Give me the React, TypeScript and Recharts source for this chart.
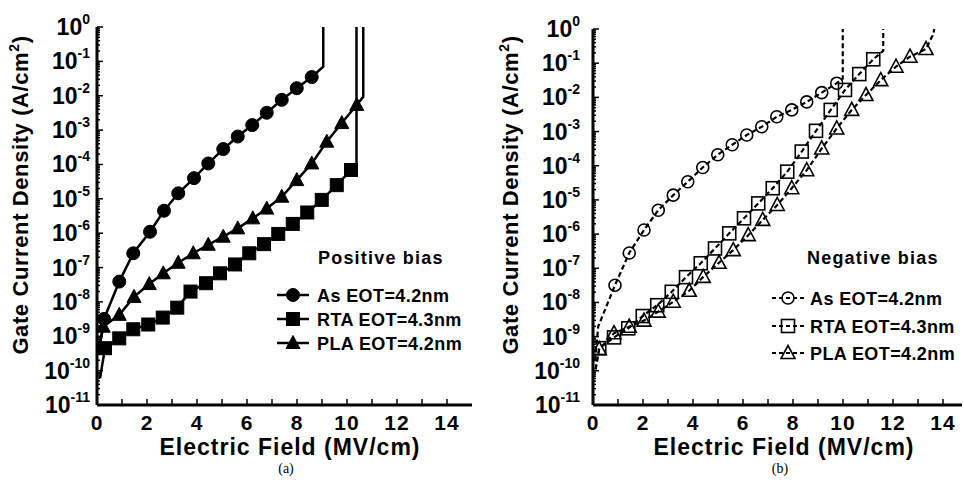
import React from "react";
import { LineChart, Line, XAxis, YAxis, Legend } from "recharts";

type Pt = { e: number; j: number };

// (a) positive bias
const asPosLead: Pt[] = [{ e: 0.12, j: 6e-10 }];
const asPos: Pt[] = [
  { e: 0.28, j: 3.2e-9 }, { e: 0.89, j: 3.9e-8 }, { e: 1.45, j: 2.6e-7 },
  { e: 2.12, j: 1.1e-6 }, { e: 2.68, j: 4.5e-6 }, { e: 3.25, j: 1.45e-5 },
  { e: 3.88, j: 4e-5 }, { e: 4.45, j: 1.07e-4 }, { e: 5.05, j: 2.8e-4 },
  { e: 5.63, j: 6.5e-4 }, { e: 6.21, j: 1.4e-3 }, { e: 6.79, j: 3.2e-3 },
  { e: 7.39, j: 7.6e-3 }, { e: 7.99, j: 1.66e-2 }, { e: 8.59, j: 3.5e-2 },
];
const asPosTail: Pt[] = [{ e: 9.05, j: 7e-2 }, { e: 9.05, j: 1 }];

const rtaPosLead: Pt[] = [{ e: 0.12, j: 6e-11 }];
const rtaPos: Pt[] = [
  { e: 0.32, j: 4.5e-10 }, { e: 0.89, j: 8.7e-10 }, { e: 1.45, j: 1.6e-9 },
  { e: 2.05, j: 2.2e-9 }, { e: 2.63, j: 3.5e-9 }, { e: 3.21, j: 6.8e-9 },
  { e: 3.74, j: 2e-8 }, { e: 4.36, j: 3.5e-8 }, { e: 4.92, j: 6.8e-8 },
  { e: 5.52, j: 1.23e-7 }, { e: 6.09, j: 2.6e-7 }, { e: 6.68, j: 4.8e-7 },
  { e: 7.25, j: 9.5e-7 }, { e: 7.83, j: 1.86e-6 }, { e: 8.41, j: 4e-6 },
  { e: 8.99, j: 9.3e-6 }, { e: 9.59, j: 2.5e-5 }, { e: 10.16, j: 6.9e-5 },
];
const rtaPosTail: Pt[] = [{ e: 10.38, j: 8e-5 }, { e: 10.38, j: 1 }];

const plaPosLead: Pt[] = [{ e: 0.1, j: 5e-10 }];
const plaPos: Pt[] = [
  { e: 0.25, j: 1.9e-9 }, { e: 0.89, j: 4.2e-9 }, { e: 1.48, j: 1.4e-8 },
  { e: 2.09, j: 3.3e-8 }, { e: 2.65, j: 6.8e-8 }, { e: 3.25, j: 1.38e-7 },
  { e: 3.85, j: 2.6e-7 }, { e: 4.45, j: 4.6e-7 }, { e: 5.05, j: 7.9e-7 },
  { e: 5.63, j: 1.38e-6 }, { e: 6.23, j: 2.7e-6 }, { e: 6.79, j: 5.2e-6 },
  { e: 7.39, j: 1.15e-5 }, { e: 7.99, j: 3.5e-5 }, { e: 8.59, j: 1.07e-4 },
  { e: 9.19, j: 4.6e-4 }, { e: 9.79, j: 1.6e-3 }, { e: 10.39, j: 5.4e-3 },
];
const plaPosTail: Pt[] = [{ e: 10.65, j: 9.3e-3 }, { e: 10.65, j: 1 }];

// (b) negative bias
const asNegLead: Pt[] = [{ e: 0.08, j: 2e-10 }, { e: 0.21, j: 2e-9 }];
const asNeg: Pt[] = [
  { e: 0.88, j: 3.2e-8 }, { e: 1.45, j: 2.8e-7 }, { e: 2.04, j: 1.32e-6 },
  { e: 2.61, j: 5e-6 }, { e: 3.21, j: 1.38e-5 }, { e: 3.79, j: 3.4e-5 },
  { e: 4.39, j: 8.9e-5 }, { e: 4.99, j: 2.1e-4 }, { e: 5.57, j: 4.1e-4 },
  { e: 6.15, j: 7.9e-4 }, { e: 6.75, j: 1.38e-3 }, { e: 7.35, j: 2.7e-3 },
  { e: 7.95, j: 4.3e-3 }, { e: 8.55, j: 7.4e-3 }, { e: 9.15, j: 1.38e-2 },
  { e: 9.75, j: 2.6e-2 },
];
const asNegTail: Pt[] = [{ e: 9.99, j: 3.5e-2 }, { e: 9.99, j: 1 }];

const rtaNegLead: Pt[] = [{ e: 0.1, j: 1.1e-10 }];
const rtaNeg: Pt[] = [
  { e: 0.25, j: 4.6e-10 }, { e: 0.84, j: 9.5e-10 }, { e: 1.41, j: 1.75e-9 },
  { e: 1.99, j: 4e-9 }, { e: 2.57, j: 8.3e-9 }, { e: 3.15, j: 2.05e-8 },
  { e: 3.72, j: 5.5e-8 }, { e: 4.31, j: 1.4e-7 }, { e: 4.88, j: 3.8e-7 },
  { e: 5.45, j: 1.05e-6 }, { e: 6.04, j: 2.9e-6 }, { e: 6.61, j: 7.9e-6 },
  { e: 7.19, j: 2.2e-5 }, { e: 7.77, j: 6.7e-5 }, { e: 8.35, j: 2.6e-4 },
  { e: 8.92, j: 1.05e-3 }, { e: 9.51, j: 4.3e-3 }, { e: 10.08, j: 1.65e-2 },
  { e: 10.65, j: 4.8e-2 }, { e: 11.21, j: 1.3e-1 },
];
const rtaNegTail: Pt[] = [{ e: 11.61, j: 2.3e-1 }, { e: 11.61, j: 1 }];

const plaNegLead: Pt[] = [{ e: 0.1, j: 1.1e-10 }];
const plaNeg: Pt[] = [
  { e: 0.25, j: 4.3e-10 }, { e: 0.84, j: 1.26e-9 }, { e: 1.45, j: 1.95e-9 },
  { e: 2.04, j: 2.95e-9 }, { e: 2.61, j: 5.4e-9 }, { e: 3.21, j: 1.05e-8 },
  { e: 3.85, j: 2.2e-8 }, { e: 4.41, j: 5.6e-8 }, { e: 5.04, j: 1.45e-7 },
  { e: 5.61, j: 3.4e-7 }, { e: 6.21, j: 9.3e-7 }, { e: 6.79, j: 2.6e-6 },
  { e: 7.37, j: 7.1e-6 }, { e: 7.95, j: 2.2e-5 }, { e: 8.55, j: 7.4e-5 },
  { e: 9.15, j: 3.2e-4 }, { e: 9.75, j: 1.23e-3 }, { e: 10.35, j: 4.3e-3 },
  { e: 10.92, j: 1.17e-2 }, { e: 11.51, j: 3.2e-2 }, { e: 12.12, j: 7.9e-2 },
  { e: 12.68, j: 1.55e-1 }, { e: 13.32, j: 2.6e-1 },
];
const plaNegTail: Pt[] = [{ e: 13.61, j: 0.7 }, { e: 13.65, j: 1 }];

const seriesNames = ["As EOT=4.2nm", "RTA EOT=4.3nm", "PLA EOT=4.2nm"];
const xTicks = [0, 1, 2, 3, 4, 5, 6, 7, 8, 9, 10, 11, 12, 13, 14];
const decades = [-11, -10, -9, -8, -7, -6, -5, -4, -3, -2, -1, 0];

const majorTicks = decades.map((d) => Math.pow(10, d));
const minorTicks = decades
  .slice(0, -1)
  .flatMap((d) => [2, 3, 4, 5, 6, 7, 8, 9].map((m) => m * Math.pow(10, d)));

const FONT = "'Liberation Sans', Arial, Helvetica, sans-serif";

type Shape = "circle" | "square" | "triangle";

function Marker({ shape, cx, cy, filled }: { shape: Shape; cx: number; cy: number; filled: boolean }) {
  const fill = filled ? "#000" : "none";
  const sw = filled ? 1 : 1.6;
  if (shape === "circle") {
    const r = filled ? 6.5 : 6;
    return <circle cx={cx} cy={cy} r={r} fill={fill} stroke="#000" strokeWidth={sw} />;
  }
  if (shape === "square") {
    const h = 6.5;
    return <rect x={cx - h} y={cy - h} width={2 * h} height={2 * h} fill={fill} stroke="#000" strokeWidth={sw} />;
  }
  return (
    <polygon
      points={`${cx},${cy - 7.5} ${cx - 7},${cy + 5.5} ${cx + 7},${cy + 5.5}`}
      fill={fill}
      stroke="#000"
      strokeWidth={sw}
    />
  );
}

const makeDot = (shape: Shape, filled: boolean, from: number, to: number) => (p: any) => {
  const { cx, cy, index } = p;
  if (index < from || index >= to || cx == null || cy == null) return <g key={`d${index}`} />;
  return <Marker key={`d${index}`} shape={shape} cx={cx} cy={cy} filled={filled} />;
};

const LeftTick = (gap: number) => (p: any) => {
  const { x, y, payload } = p;
  const lg = Math.log10(payload.value);
  const exp = Math.round(lg);
  const major = Math.abs(lg - exp) < 1e-6;
  return (
    <g>
      <line x1={x} x2={x + (major ? 6 : 3)} y1={y} y2={y} stroke="#000" strokeWidth={1.5} />
      {major && (
        <text x={x - gap} y={y + 8} textAnchor="end" fontFamily={FONT} fontWeight="bold" fontSize={23} fill="#000">
          <tspan>10</tspan>
          <tspan dy={-11} fontSize={14}>{String(exp)}</tspan>
        </text>
      )}
    </g>
  );
};

const RightTick = (p: any) => (
  <line x1={p.x} x2={p.x - 5} y1={p.y} y2={p.y} stroke="#000" strokeWidth={1.5} />
);

const BottomTick = (p: any) => {
  const { x, y, payload } = p;
  return (
    <g>
      <line x1={x} x2={x} y1={y} y2={y - 6} stroke="#000" strokeWidth={1.5} />
      {payload.value % 2 === 0 && (
        <text x={x} y={y + 25} textAnchor="middle" fontFamily={FONT} fontWeight="bold" fontSize={21} letterSpacing={1} fill="#000">
          {payload.value}
        </text>
      )}
    </g>
  );
};

const TopTick = (p: any) => (
  <line x1={p.x} x2={p.x} y1={p.y} y2={p.y + 6} stroke="#000" strokeWidth={1.5} />
);

type Series = { name: string; lead: Pt[]; marks: Pt[]; tail: Pt[]; shape: Shape };

type PanelProps = {
  series: Series[];
  filled: boolean;
  width: number;
  top: number;
  right: number;
  yWidth: number;
  xMax: number;
  gap: number;
  titleX: number;
  biasTitle: string;
  legendLeft: number;
  legendRows: number[];
  legendTitleX: number;
  legendTextX: number;
};

function Panel(props: PanelProps) {
  const { series, filled } = props;
  const height = 494;
  const axisLine = { stroke: "#000", strokeWidth: 3 };
  const legendContent = () => (
    <svg width={200} height={125} style={{ display: "block" }}>
      <text x={props.legendTitleX} y={24} fontFamily={FONT} fontWeight="bold" fontSize={18} letterSpacing={1.2} fill="#000">
        {props.biasTitle}
      </text>
      {series.map((s, i) => {
        const cy = props.legendRows[i];
        return (
          <g key={s.name}>
            <line
              x1={7}
              x2={39}
              y1={cy}
              y2={cy}
              stroke="#000"
              strokeWidth={filled ? 2.5 : 2.2}
              strokeDasharray={filled ? undefined : "4 3"}
            />
            <Marker shape={s.shape} cx={23} cy={cy} filled={filled} />
            <text x={props.legendTextX} y={cy + 6.5} fontFamily={FONT} fontWeight="bold" fontSize={18} letterSpacing={0.4} fill="#000">
              {s.name}
            </text>
          </g>
        );
      })}
    </svg>
  );

  return (
    <LineChart
      width={props.width}
      height={height}
      margin={{ top: props.top, right: props.right, bottom: 29, left: 0 }}
    >
      <XAxis
        xAxisId="b"
        type="number"
        dataKey="e"
        domain={[0, props.xMax]}
        ticks={xTicks}
        allowDataOverflow
        height={60}
        tickSize={0}
        tickMargin={0}
        tickLine={false}
        axisLine={axisLine}
        tick={BottomTick}
        interval={0}
        label={{
          content: () => (
            <text x={props.titleX} y={455} textAnchor="middle" fontFamily={FONT} fontWeight="bold" fontSize={23} letterSpacing={1} fill="#000">
              Electric Field (MV/cm)
            </text>
          ),
        }}
      />
      <XAxis
        xAxisId="t"
        orientation="top"
        type="number"
        dataKey="e"
        domain={[0, props.xMax]}
        ticks={xTicks}
        allowDataOverflow
        height={0}
        tickSize={0}
        tickMargin={0}
        tickLine={false}
        axisLine={axisLine}
        tick={TopTick}
        interval={0}
      />
      <YAxis
        yAxisId="l"
        scale="log"
        domain={[1e-11, 1]}
        allowDataOverflow
        ticks={[...majorTicks, ...minorTicks]}
        width={props.yWidth}
        tickSize={0}
        tickMargin={0}
        tickLine={false}
        axisLine={axisLine}
        tick={LeftTick(props.gap)}
        interval={0}
        label={{
          content: () => (
            <text
              transform={`translate(28, 195) rotate(-90)`}
              textAnchor="middle"
              fontFamily={FONT}
              fontWeight="bold"
              fontSize={22}
              letterSpacing={0.6}
              fill="#000"
            >
              <tspan>Gate Current Density (A/cm</tspan>
              <tspan dy={-9} fontSize={14}>2</tspan>
              <tspan dy={9}>)</tspan>
            </text>
          ),
        }}
      />
      <YAxis
        yAxisId="r"
        orientation="right"
        scale="log"
        domain={[1e-11, 1]}
        allowDataOverflow
        ticks={majorTicks}
        width={0}
        tickSize={0}
        tickMargin={0}
        tickLine={false}
        axisLine={axisLine}
        tick={RightTick}
        interval={0}
      />
      {series.map((s) => {
        const data = [...s.lead, ...s.marks, ...s.tail];
        return (
          <Line
            key={s.name}
            xAxisId="b"
            yAxisId="l"
            name={s.name}
            data={data}
            dataKey="j"
            type="linear"
            stroke="#000"
            strokeWidth={filled ? 2.5 : 2.2}
            strokeDasharray={filled ? undefined : "5 3"}
            dot={makeDot(s.shape, filled, s.lead.length, s.lead.length + s.marks.length)}
            activeDot={false}
            isAnimationActive={false}
          />
        );
      })}
      <Legend
        layout="horizontal"
        verticalAlign="middle"
        align="center"
        wrapperStyle={{ left: props.legendLeft, top: 240, width: 200, height: 125 }}
        content={legendContent}
      />
    </LineChart>
  );
}

const posSeries: Series[] = [
  { name: seriesNames[0], lead: asPosLead, marks: asPos, tail: asPosTail, shape: "circle" },
  { name: seriesNames[1], lead: rtaPosLead, marks: rtaPos, tail: rtaPosTail, shape: "square" },
  { name: seriesNames[2], lead: plaPosLead, marks: plaPos, tail: plaPosTail, shape: "triangle" },
];

const negSeries: Series[] = [
  { name: seriesNames[0], lead: asNegLead, marks: asNeg, tail: asNegTail, shape: "circle" },
  { name: seriesNames[1], lead: rtaNegLead, marks: rtaNeg, tail: rtaNegTail, shape: "square" },
  { name: seriesNames[2], lead: plaNegLead, marks: plaNeg, tail: plaNegTail, shape: "triangle" },
];

const tagStyle: React.CSSProperties = {
  position: "absolute",
  top: 461,
  width: 40,
  textAlign: "center",
  fontFamily: "'Liberation Serif', 'Times New Roman', serif",
  fontSize: 14,
  lineHeight: "16px",
  color: "#000",
};

export default function App() {
  return (
    <div style={{ position: "absolute", left: 0, top: 0, width: 964, height: 494, background: "#fff", overflow: "hidden" }}>
      <div style={{ position: "absolute", left: 0, top: 0 }}>
        <Panel
          series={posSeries}
          filled
          width={490}
          top={27}
          right={18}
          yWidth={97}
          xMax={15}
          gap={7}
          titleX={290}
          biasTitle="Positive bias"
          legendLeft={270}
          legendRows={[55, 79, 103]}
          legendTitleX={48}
          legendTextX={47}
        />
      </div>
      <div style={{ position: "absolute", left: 490, top: 0 }}>
        <Panel
          series={negSeries}
          filled={false}
          width={474}
          top={29}
          right={2}
          yWidth={103}
          xMax={14.76}
          gap={13}
          titleX={294}
          biasTitle="Negative bias"
          legendLeft={275}
          legendRows={[58, 86, 113]}
          legendTitleX={42}
          legendTextX={45}
        />
      </div>
      <div style={{ ...tagStyle, left: 266 }}>(a)</div>
      <div style={{ ...tagStyle, left: 760 }}>(b)</div>
    </div>
  );
}
